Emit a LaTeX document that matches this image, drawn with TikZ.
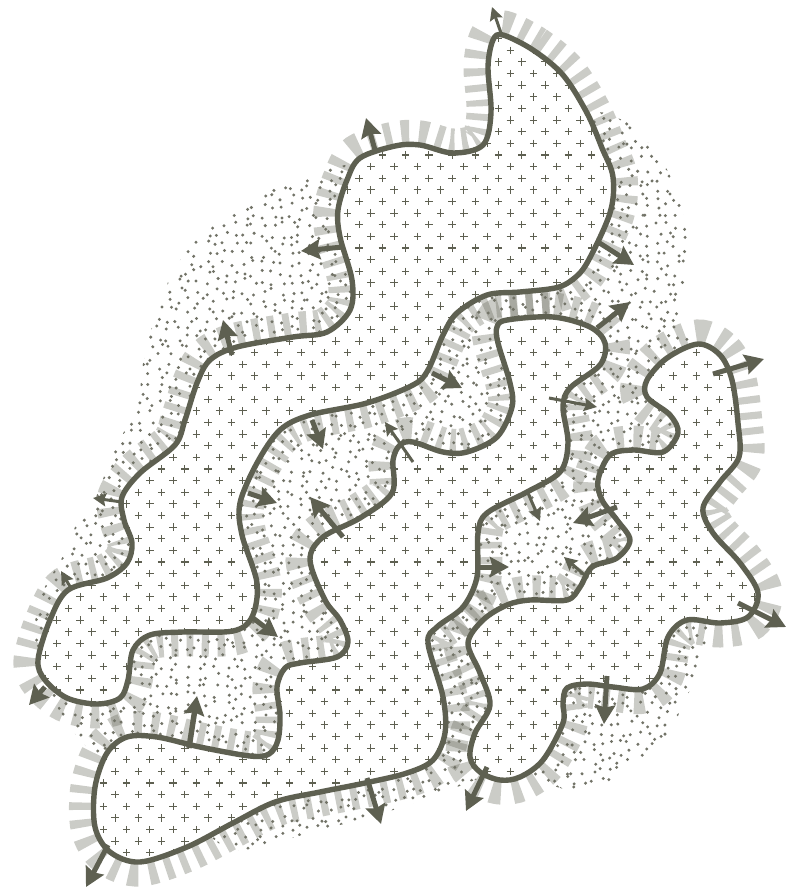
\documentclass[tikz,border=0pt]{standalone}
\usetikzlibrary{arrows.meta}
\definecolor{ink}{HTML}{5E6051}
\definecolor{dotc}{HTML}{727367}
\newcommand\blobA{plot[smooth cycle,tension=.55] coordinates {(503,35)(533,50)(563,75)(587,113)(602,148)(613,177)(610,213)(587,263)(572,280)(555,288)(520,292)(487,295)(457,313)(443,335)(428,370)(413,385)(367,403)(310,415)(280,430)(257,463)(240,503)(242,535)(257,583)(252,617)(233,631)(183,632)(150,635)(133,650)(128,680)(120,698)(97,704)(67,698)(45,680)(38,660)(50,620)(68,590)(107,578)(127,563)(132,543)(124,520)(122,497)(140,473)(175,445)(185,420)(197,383)(210,360)(237,347)(293,337)(327,332)(350,310)(352,280)(340,237)(338,210)(347,180)(360,158)(395,146)(420,145)(453,153)(483,145)(491,113)(488,67)(493,40)}}
\newcommand\blobB{plot[smooth cycle,tension=.55] coordinates {(507,320)(553,317)(590,327)(605,343)(600,365)(570,388)(563,407)(568,443)(560,472)(527,492)(487,513)(478,533)(477,577)(463,607)(437,627)(428,643)(443,697)(445,733)(433,760)(407,773)(365,783)(320,792)(275,802)(233,823)(187,847)(140,862)(110,852)(95,827)(95,787)(107,753)(127,737)(157,737)(200,747)(250,756)(269,754)(278,740)(280,715)(277,687)(285,668)(300,663)(337,657)(348,642)(340,620)(325,600)(310,560)(323,537)(360,518)(392,493)(393,460)(400,445)(413,442)(443,452)(467,452)(497,437)(512,407)(510,383)(498,343)(497,327)}}
\newcommand\blobC{plot[smooth cycle,tension=.55] coordinates {(698,344)(720,355)(732,380)(738,423)(739,457)(720,482)(703,508)(713,533)(740,563)(758,593)(748,617)(720,623)(687,620)(668,637)(660,673)(643,689)(613,687)(587,684)(567,688)(563,703)(563,723)(543,760)(520,777)(500,780)(480,772)(470,757)(475,733)(490,705)(480,673)(468,643)(483,620)(507,605)(530,600)(567,600)(580,587)(592,567)(617,558)(630,540)(617,520)(602,500)(598,480)(610,455)(633,450)(663,452)(678,433)(670,415)(647,397)(647,380)(667,358)}}
\tikzset{
  ticks/.style={draw=ink,draw opacity=.32,line width=49pt,dash pattern=on 7pt off 8.5pt},
  outline/.style={draw=ink,line width=5.4pt,line join=round},
  plusmark/.style={draw=ink,line width=1.1pt},
  arrS/.style={draw=ink,fill=ink,line width=3pt,-{Stealth[length=13pt,width=13pt,inset=2pt]}},
  arrM/.style={draw=ink,fill=ink,line width=5pt,-{Stealth[length=19pt,width=20pt,inset=2.5pt]}},
}
\begin{document}
\begin{tikzpicture}[x=1pt,y=-1pt]
\useasboundingbox (0,0) rectangle (794,887);
% ticks
\path[ticks] \blobA;
\path[ticks] \blobB;
\path[ticks] \blobC;
% stipple
\pgfmathsetseed{4711}
\begin{scope}
\clip (320,170)--(420,150)--(480,150)--(500,100)--(607,113)--(633,125)--(650,145)--(662,160)--(680,195)--(687,235)--(684,290)--(680,330)--(700,350)--(720,600)--(690,690)--(670,733)--(647,752)--(627,772)--(607,784)--(567,790)--(500,770)--(437,795)--(413,804)--(363,819)--(313,832)--(285,840)--(265,847)--(230,852)--(150,790)--(90,750)--(78,738)--(57,707)--(30,640)--(43,590)--(57,566)--(65,553)--(75,527)--(90,513)--(113,453)--(130,420)--(140,393)--(142,368)--(150,333)--(160,303)--(170,277)--(182,257)--(193,242)--(217,223)--(247,203)--(270,190)--(303,180)--cycle;
\foreach \j in {10,...,92}{
  \fill[dotc] \foreach \i in {3,...,75}{ ({\i*9.4+rand*3.8},{\j*9.4+rand*3.8}) circle[radius=1.65] };
}
\end{scope}
% white interiors
\fill[white] \blobA;
\fill[white] \blobB;
\fill[white] \blobC;
% plus signs
\begin{scope}
\clip \blobA \blobB \blobC;
\foreach \k in {-2,...,36}{
  \pgfmathsetmacro\ya{50.3+23.26*\k}
  \pgfmathsetmacro\yb{\ya+11.63}
  \draw[plusmark] \foreach \i in {-22,...,12}{
    \pgfextra{\pgfmathsetmacro\xa{510.3+23.25*\i}\pgfmathsetmacro\xb{\xa+11.625}}
    ({\xa-3.7},\ya) -- ({\xa+3.7},\ya) (\xa,{\ya-3.7}) -- (\xa,{\ya+3.7})
    ({\xb-3.7},\yb) -- ({\xb+3.7},\yb) (\xb,{\yb-3.7}) -- (\xb,{\yb+3.7})
  };
}
\end{scope}
% outlines
\path[outline] \blobA;
\path[outline] \blobB;
\path[outline] \blobC;
% arrows
\draw[arrS] (502,36) -- (492,7);
\draw[arrM] (375,150) -- (366,118);
\draw[arrM] (343,247) -- (301,251);
\draw[arrM] (232,355) -- (223,320);
\draw[arrS] (122,502) -- (93,498);
\draw[arrS] (72,590) -- (61,571);
\draw[arrM] (45,687) -- (29,705);
\draw[arrM] (108,845) -- (86,887);
\draw[arrM,line width=5.5pt] (189,748) -- (197,696);
\draw[arrM] (253,618) -- (278,637);
\draw[arrM] (248,493) -- (277,503);
\draw[arrM] (312,420) -- (323,449);
\draw[arrM] (343,537) -- (310,497);
\draw[arrM] (432,373) -- (462,388);
\draw[arrS] (413,462) -- (385,422);
\draw[arrM] (598,242) -- (634,265);
\draw[arrM] (597,328) -- (630,302);
\draw[arrS] (549,398) -- (597,407);
\draw[arrM] (713,374) -- (764,359);
\draw[arrM] (738,603) -- (786,627);
\draw[arrM] (617,507) -- (573,523);
\draw[arrS] (528,493) -- (540,521);
\draw[arrM] (478,567) -- (509,567);
\draw[arrS] (588,578) -- (564,557);
\draw[arrM] (367,778) -- (381,824);
\draw[arrM] (487,767) -- (466,811);
\draw[arrM] (607,676) -- (604,724);
\end{tikzpicture}
\end{document}
